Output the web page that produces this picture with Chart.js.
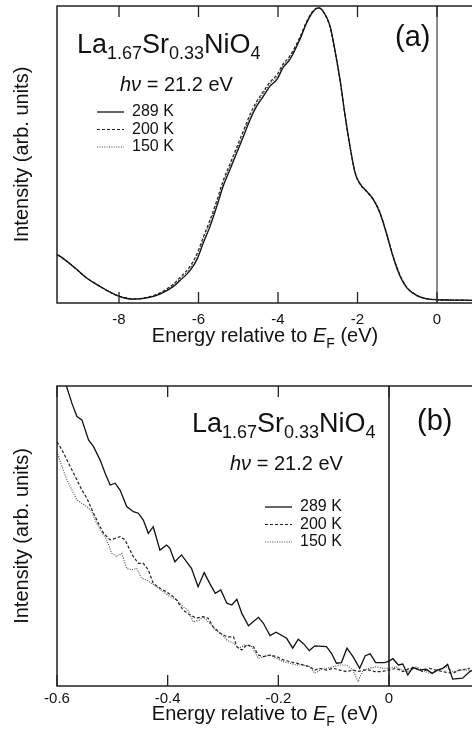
<!DOCTYPE html>
<html>
<head>
<meta charset="utf-8">
<title>La1.67Sr0.33NiO4 photoemission</title>
<script src="https://cdn.jsdelivr.net/npm/chart.js@4.4.1/dist/chart.umd.min.js"></script>
<style>
  html, body { margin: 0; padding: 0; background: #fff; }
  body { width: 472px; height: 739px; position: relative; overflow: hidden; }
  .panel { position: absolute; left: 0; width: 472px; }
  #panelA { top: 0; height: 355px; }
  #panelB { top: 360px; height: 379px; }
</style>
</head>
<body>
<div class="panel" id="panelA"><canvas id="chartA"></canvas></div>
<div class="panel" id="panelB"><canvas id="chartB"></canvas></div>
<script>
'use strict';

// ── DATA: panel (a), wide valence band ───────────────────────────
const E_A = [-9.56,-9.48,-9.15,-8.81,-8.48,-8.06,-7.64,-7.30,-6.97,-6.63,-6.47,-6.21,-6.04,-5.88,-5.71,-5.54,-5.38,-5.21,-5.04,-4.87,-4.70,-4.54,-4.37,-4.20,-4.03,-3.87,-3.70,-3.45,-3.28,-3.11,-2.98,-2.86,-2.69,-2.57,-2.44,-2.31,-2.19,-2.06,-1.94,-1.77,-1.60,-1.43,-1.27,-1.10,-0.93,-0.76,-0.51,-0.26,0.00,0.40,0.88];
const I289_A = [0.163,0.157,0.123,0.084,0.056,0.026,0.013,0.017,0.030,0.056,0.075,0.110,0.146,0.202,0.258,0.325,0.393,0.449,0.505,0.561,0.618,0.662,0.696,0.730,0.752,0.793,0.820,0.887,0.943,0.982,0.994,0.982,0.932,0.853,0.752,0.629,0.528,0.438,0.402,0.376,0.348,0.301,0.233,0.153,0.090,0.051,0.025,0.014,0.011,0.010,0.009];
const I200_A = [0.163,0.157,0.123,0.084,0.056,0.026,0.014,0.019,0.034,0.064,0.085,0.124,0.165,0.222,0.280,0.345,0.412,0.468,0.524,0.580,0.636,0.678,0.712,0.744,0.768,0.805,0.832,0.895,0.948,0.985,0.994,0.980,0.928,0.848,0.748,0.626,0.526,0.437,0.401,0.375,0.347,0.301,0.234,0.155,0.093,0.053,0.026,0.015,0.011,0.010,0.009];
const I150_A = [0.162,0.156,0.122,0.084,0.056,0.027,0.014,0.018,0.032,0.060,0.080,0.117,0.157,0.213,0.270,0.336,0.403,0.459,0.515,0.571,0.628,0.670,0.705,0.738,0.761,0.800,0.826,0.891,0.946,0.984,0.993,0.981,0.931,0.852,0.752,0.630,0.530,0.440,0.404,0.378,0.350,0.304,0.237,0.158,0.095,0.054,0.027,0.015,0.012,0.010,0.009];
const TICKS_A = [-8, -6, -4, -2, 0];

// ── DATA: panel (b), near the Fermi level ────────────────────────
const E289_B = [-0.583,-0.573,-0.564,-0.555,-0.543,-0.534,-0.522,-0.513,-0.504,-0.495,-0.486,-0.474,-0.462,-0.453,-0.444,-0.435,-0.426,-0.414,-0.402,-0.396,-0.387,-0.375,-0.357,-0.345,-0.334,-0.324,-0.314,-0.304,-0.293,-0.284,-0.275,-0.266,-0.254,-0.236,-0.227,-0.215,-0.204,-0.185,-0.174,-0.164,-0.155,-0.144,-0.134,-0.113,-0.104,-0.095,-0.086,-0.076,-0.065,-0.053,-0.043,-0.034,-0.024,-0.008,0.000,0.007,0.017,0.025,0.034,0.043,0.055,0.067,0.078,0.087,0.097,0.106,0.115,0.133,0.146,0.150];
const I289_B = [1.000,0.942,0.898,0.887,0.820,0.798,0.753,0.709,0.670,0.676,0.653,0.598,0.581,0.576,0.553,0.509,0.531,0.453,0.470,0.459,0.414,0.437,0.392,0.331,0.378,0.342,0.309,0.320,0.276,0.270,0.289,0.242,0.201,0.229,0.209,0.168,0.179,0.159,0.126,0.156,0.142,0.118,0.134,0.131,0.109,0.076,0.078,0.126,0.098,0.059,0.101,0.107,0.078,0.078,0.083,0.091,0.070,0.073,0.037,0.062,0.053,0.056,0.042,0.053,0.059,0.072,0.023,0.026,0.048,0.052];
const E200_B = [-0.600,-0.591,-0.582,-0.573,-0.564,-0.555,-0.546,-0.534,-0.525,-0.516,-0.504,-0.495,-0.486,-0.477,-0.471,-0.462,-0.453,-0.444,-0.435,-0.426,-0.414,-0.402,-0.390,-0.384,-0.372,-0.360,-0.348,-0.336,-0.327,-0.318,-0.305,-0.293,-0.281,-0.275,-0.266,-0.257,-0.245,-0.236,-0.227,-0.215,-0.203,-0.191,-0.179,-0.167,-0.155,-0.143,-0.134,-0.125,-0.113,-0.101,-0.089,-0.077,-0.065,-0.056,-0.047,-0.035,-0.026,-0.014,0.000,0.013,0.025,0.037,0.049,0.061,0.073,0.085,0.097,0.115,0.127,0.146];
const I200_B = [0.814,0.787,0.753,0.720,0.687,0.653,0.626,0.576,0.542,0.509,0.487,0.492,0.498,0.487,0.464,0.431,0.409,0.409,0.387,0.342,0.326,0.314,0.298,0.287,0.253,0.237,0.226,0.231,0.226,0.198,0.176,0.164,0.164,0.131,0.120,0.137,0.131,0.103,0.098,0.103,0.098,0.087,0.081,0.076,0.070,0.064,0.053,0.059,0.053,0.059,0.053,0.048,0.053,0.048,0.053,0.053,0.048,0.048,0.053,0.059,0.048,0.059,0.059,0.048,0.059,0.053,0.048,0.042,0.053,0.059];
const E150_B = [-0.600,-0.591,-0.582,-0.573,-0.564,-0.555,-0.546,-0.537,-0.531,-0.522,-0.510,-0.501,-0.492,-0.483,-0.474,-0.465,-0.456,-0.447,-0.438,-0.429,-0.420,-0.408,-0.396,-0.384,-0.372,-0.363,-0.354,-0.342,-0.336,-0.324,-0.314,-0.305,-0.293,-0.281,-0.272,-0.260,-0.248,-0.236,-0.227,-0.215,-0.203,-0.191,-0.179,-0.167,-0.155,-0.143,-0.134,-0.125,-0.113,-0.101,-0.089,-0.077,-0.065,-0.056,-0.047,-0.035,-0.023,-0.011,0.000,0.013,0.025,0.037,0.049,0.061,0.073,0.085,0.103,0.115,0.133,0.146];
const I150_B = [0.781,0.731,0.687,0.653,0.620,0.609,0.598,0.581,0.553,0.520,0.487,0.442,0.431,0.442,0.392,0.387,0.392,0.359,0.353,0.342,0.331,0.314,0.298,0.287,0.264,0.253,0.214,0.220,0.231,0.209,0.187,0.176,0.153,0.142,0.126,0.137,0.131,0.092,0.098,0.103,0.092,0.081,0.076,0.070,0.070,0.064,0.042,0.053,0.059,0.064,0.070,0.070,0.053,0.014,0.053,0.059,0.064,0.059,0.059,0.064,0.053,0.048,0.064,0.053,0.042,0.048,0.064,0.048,0.053,0.053];
const TICKS_B = [-0.6, -0.4, -0.2, 0];

const SERIES = ['289 K', '200 K', '150 K'];

// ── STYLE ─────────────────────────────────────────────────────────
const FONT = "'Liberation Sans', Arial, Helvetica, sans-serif";
const INK = '#111';
const LINE_STYLE = [
  { borderColor: '#111', borderWidth: 1.3, borderDash: [] },
  { borderColor: '#222', borderWidth: 1.2, borderDash: [3, 2] },
  { borderColor: '#444', borderWidth: 1.1, borderDash: [1, 1.4] }
];
const FORMULA = [['La', 'n'], ['1.67', 'sub'], ['Sr', 'n'], ['0.33', 'sub'], ['NiO', 'n'], ['4', 'sub']];

function fontStr(size, italic) {
  return (italic ? 'italic ' : '') + size + 'px ' + FONT;
}

// text runs: 'n' normal, 'it' italic, 'sub' subscript
function runsWidth(ctx, runs, size, subSize) {
  return runs.reduce((w, [t, k]) => {
    ctx.font = fontStr(k === 'sub' ? subSize : size, k === 'it');
    return w + ctx.measureText(t).width;
  }, 0);
}

function drawRuns(ctx, runs, x, y, size, subSize, drop) {
  ctx.textAlign = 'left';
  ctx.textBaseline = 'alphabetic';
  runs.forEach(([t, k]) => {
    ctx.font = fontStr(k === 'sub' ? subSize : size, k === 'it');
    ctx.fillText(t, x, k === 'sub' ? y + drop : y);
    x += ctx.measureText(t).width;
  });
}

// ── FRAME / ANNOTATION PLUGIN ─────────────────────────────────────
const decorPlugin = {
  id: 'decor',
  afterDatasetsDraw(chart, args, o) {
    const { ctx, chartArea: ca, scales: { x } } = chart;
    ctx.save();

    // Fermi level marker
    const x0 = x.getPixelForValue(0);
    ctx.strokeStyle = o.zeroColor;
    ctx.lineWidth = 1.5;
    ctx.beginPath();
    ctx.moveTo(x0, ca.top);
    ctx.lineTo(x0, ca.bottom);
    ctx.stroke();

    // open frame: left, top, bottom
    ctx.strokeStyle = '#222';
    ctx.lineWidth = 1.5;
    ctx.beginPath();
    ctx.moveTo(ca.right, ca.top);
    ctx.lineTo(ca.left, ca.top);
    ctx.lineTo(ca.left, ca.bottom);
    ctx.lineTo(ca.right, ca.bottom);
    ctx.stroke();

    // inward ticks on top and bottom
    ctx.lineWidth = 1.3;
    x.ticks.forEach(t => {
      const px = x.getPixelForValue(t.value);
      ctx.beginPath();
      ctx.moveTo(px, ca.bottom);
      ctx.lineTo(px, ca.bottom - 11);
      ctx.moveTo(px, ca.top);
      ctx.lineTo(px, ca.top + 11);
      ctx.stroke();
    });

    ctx.fillStyle = INK;

    // compound and photon energy
    drawRuns(ctx, FORMULA, o.formula[0], o.formula[1], 27, 18, 6.5);
    drawRuns(ctx, [['h\u03BD', 'it'], [' = 21.2 eV', 'n']], o.hv[0], o.hv[1], 20, 20, 0);

    // panel label
    ctx.font = fontStr(29);
    ctx.fillText(o.label, o.labelPos[0], o.labelPos[1]);

    // legend from datasets
    ctx.font = fontStr(16);
    ctx.textBaseline = 'middle';
    chart.data.datasets.forEach((ds, i) => {
      const ly = o.legend[1] + i * 17.5;
      ctx.save();
      ctx.strokeStyle = ds.borderColor;
      ctx.lineWidth = ds.borderWidth;
      ctx.setLineDash(ds.borderDash);
      ctx.beginPath();
      ctx.moveTo(o.legend[0], ly);
      ctx.lineTo(o.legend[0] + 27, ly);
      ctx.stroke();
      ctx.restore();
      ctx.fillText(ds.label, o.legend[0] + 35, ly);
    });

    // x-axis title with italic E and subscript F
    const title = [['Energy relative to ', 'n'], ['E', 'it'], ['F', 'sub'], [' (eV)', 'n']];
    const w = runsWidth(ctx, title, 20, 14);
    drawRuns(ctx, title, o.titleX - w / 2, o.titleY, 20, 14, 6);

    ctx.restore();
  }
};

// ── CHART FACTORY ─────────────────────────────────────────────────
function makePanel(canvasId, series, xRange, ticks, padTop, xAxisH, tickPad, smooth, decor) {
  const ctx = document.getElementById(canvasId).getContext('2d');
  return new Chart(ctx, {
    type: 'line',
    data: {
      datasets: series.map((s, i) => ({
        label: SERIES[i],
        data: s.e.map((e, j) => ({ x: e, y: s.v[j] })),
        fill: false,
        pointRadius: 0,
        tension: 0,
        cubicInterpolationMode: smooth ? 'monotone' : 'default',
        ...LINE_STYLE[i]
      }))
    },
    options: {
      responsive: true,
      maintainAspectRatio: false,
      animation: false,
      layout: { padding: { top: padTop, left: 0, right: 0, bottom: 0 } },
      scales: {
        x: {
          type: 'linear',
          min: xRange[0],
          max: xRange[1],
          afterBuildTicks: s => { s.ticks = ticks.map(v => ({ value: v })); },
          afterFit: s => { s.height = xAxisH; },
          grid: { display: false, drawTicks: false },
          border: { display: false },
          ticks: {
            color: INK,
            font: { family: FONT, size: 15 },
            padding: tickPad,
            maxRotation: 0,
            autoSkip: false,
            callback: v => String(v)
          }
        },
        y: {
          min: 0,
          max: 1,
          afterFit: s => { s.width = 57; },
          grid: { display: false, drawTicks: false },
          border: { display: false },
          ticks: { display: false },
          title: {
            display: true,
            text: 'Intensity (arb. units)',
            color: INK,
            font: { family: FONT, size: 20 },
            padding: { top: 10, bottom: 0 }
          }
        }
      },
      plugins: {
        legend: { display: false },
        tooltip: { enabled: false },
        decor
      }
    },
    plugins: [decorPlugin]
  });
}

makePanel('chartA',
  [{ e: E_A, v: I289_A }, { e: E_A, v: I200_A }, { e: E_A, v: I150_A }],
  [-9.56, 0.88], TICKS_A, 6, 52, 8, true,
  { label: '(a)', labelPos: [395, 46], formula: [77, 52.5], hv: [120, 90.5],
    legend: [97, 112], zeroColor: '#666', titleX: 265, titleY: 341.5 });

makePanel('chartB',
  [{ e: E289_B, v: I289_B }, { e: E200_B, v: I200_B }, { e: E150_B, v: I150_B }],
  [-0.6, 0.15], TICKS_B, 26, 53, 4, false,
  { label: '(b)', labelPos: [417, 70], formula: [192, 71.5], hv: [230, 110],
    legend: [265, 147], zeroColor: '#111', titleX: 265, titleY: 360 });
</script>
</body>
</html>
